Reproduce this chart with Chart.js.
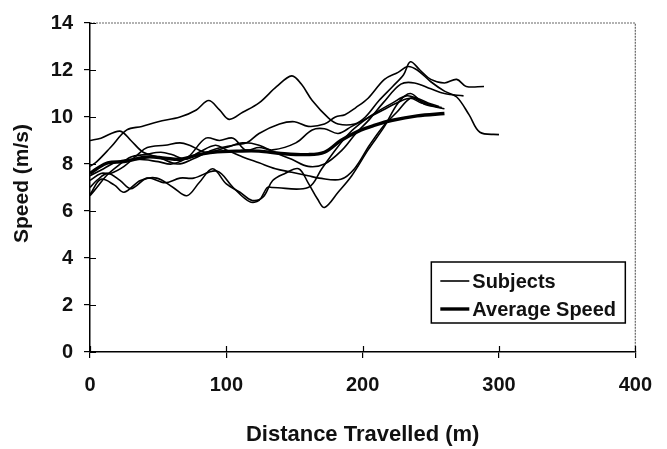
<!DOCTYPE html>
<html>
<head>
<meta charset="utf-8">
<script src="https://cdn.jsdelivr.net/npm/chart.js@4.4.0/dist/chart.umd.min.js"></script>
<style>
  body { margin: 0; background: #fff; }
  #wrap { width: 667px; height: 449px; }
</style>
</head>
<body>
<div id="wrap"><canvas id="speedChart" width="667" height="449"></canvas></div>
<script>
// distance (m), speed (m/s) pairs
var subject1 = [[0,7.9],[5,8.1],[15,8.7],[27,9.45],[38,9.6],[50,9.8],[66,10.0],[78,10.3],[87,10.7],[95,10.3],[102,9.9],[112,10.2],[124,10.6],[137,11.3],[148,11.75],[155,11.4],[163,10.7],[175,9.95],[182,9.7],[194,9.7],[202,10.0],[212,10.7],[222,11.3],[230,11.8],[235,12.35],[242,12.0],[250,11.6],[260,11.45],[269,11.6],[276,11.3],[289,11.3]];
var subject2 = [[0,9.0],[8,9.1],[22,9.4],[30,9.0],[39,8.5],[50,8.3],[64,8.0],[75,8.2],[90,8.6],[105,8.8],[115,8.9],[124,9.3],[139,9.7],[150,9.8],[160,9.6],[172,9.7],[180,10.0],[187,10.1],[195,10.4],[204,10.8],[216,11.6],[226,11.9],[233,12.15],[240,12.0],[250,11.5],[260,11.1],[269,10.85],[278,10.1],[286,9.35],[300,9.25]];
var subject3 = [[0,7.3],[8,7.6],[15,7.6],[25,7.9],[35,8.4],[42,8.7],[55,8.8],[66,8.9],[73,8.8],[85,8.5],[100,8.7],[112,8.9],[124,8.8],[135,8.5],[148,8.2],[160,7.9],[172,8.0],[185,8.6],[195,9.3],[205,9.9],[215,10.6],[228,11.4],[238,11.45],[250,11.2],[260,11.0],[274,10.9]];
var subject4 = [[0,6.7],[8,7.35],[18,7.1],[25,6.8],[37,7.3],[49,7.4],[61,7.0],[71,6.65],[80,7.2],[90,7.8],[100,7.15],[110,6.8],[119,6.45],[127,6.6],[134,7.3],[143,7.6],[153,7.8],[160,7.2],[167,6.5],[172,6.15],[182,6.8],[192,7.5],[204,8.6],[216,9.6],[226,10.6],[235,11.0],[245,10.55],[252,10.45],[260,10.35]];
var subject5 = [[0,7.0],[5,7.3],[13,7.6],[22,7.3],[30,6.95],[42,7.4],[55,7.2],[66,7.4],[76,7.4],[93,7.7],[105,7.0],[117,6.4],[124,6.45],[130,7.0],[134,7.0],[160,7.0],[170,7.8],[180,8.6],[190,9.3],[200,9.8],[210,10.2],[222,10.6],[232,10.9],[240,10.8],[248,10.6],[256,10.45]];
var subject6 = [[0,6.65],[5,7.0],[12,7.5],[20,7.9],[30,8.3],[40,8.4],[52,8.5],[60,8.4],[70,8.2],[80,8.5],[92,8.8],[100,8.6],[112,8.3],[124,8.05],[136,7.8],[148,7.65],[160,7.5],[168,7.4],[184,7.35],[194,7.8],[205,8.8],[215,9.6],[225,10.2],[235,10.8],[242,10.7],[250,10.5],[258,10.4]];
var subject7 = [[0,7.5],[10,7.8],[20,8.1],[35,8.2],[50,8.1],[60,8.0],[72,8.3],[85,9.1],[95,9.0],[105,9.1],[114,8.6],[124,8.7],[134,8.6],[151,8.9],[163,9.45],[172,9.5],[182,9.3],[192,9.6],[205,10.0],[215,10.3],[225,10.6],[235,10.8],[243,10.6],[252,10.5]];
var averageSpeed = [[0,7.6],[5,7.8],[13,8.05],[25,8.1],[42,8.3],[55,8.25],[66,8.2],[80,8.4],[90,8.5],[110,8.55],[124,8.55],[140,8.45],[160,8.4],[172,8.5],[184,9.0],[197,9.4],[209,9.65],[221,9.85],[240,10.05],[260,10.15]];

var subjects = [subject1, subject2, subject3, subject4, subject5, subject6, subject7];
var xTicks = [0, 100, 200, 300, 400];
var yTicks = [0, 2, 4, 6, 8, 10, 12, 14];
var xTitle = "Distance Travelled (m)";
var yTitle = "Speed (m/s)";
var legendLabels = ["Subjects", "Average Speed"];

var FONT = "'Liberation Sans', Arial, sans-serif";

function toPoints(arr) {
    return arr.map(p => ({x: p[0], y: p[1]}));
}

var datasets = subjects.map(s => ({
    data: toPoints(s),
    borderColor: "#000",
    borderWidth: 1.6,
    pointRadius: 0,
    fill: false,
    tension: 0.35
}));
datasets.push({
    data: toPoints(averageSpeed),
    borderColor: "#000",
    borderWidth: 3.4,
    pointRadius: 0,
    fill: false,
    tension: 0.35
});

var framePlugin = {
    id: 'frame',
    beforeDatasetsDraw(chart) {
        var a = chart.chartArea, c = chart.ctx;
        c.save();
        c.strokeStyle = "#666";
        c.lineWidth = 1.2;
        c.setLineDash([2, 1]);
        c.beginPath();
        c.moveTo(a.left, a.top);
        c.lineTo(a.right, a.top);
        c.lineTo(a.right, a.bottom);
        c.stroke();
        c.restore();
    },
    afterDraw(chart) {
        var a = chart.chartArea, c = chart.ctx;
        var xs = chart.scales.x, ys = chart.scales.y;
        c.save();
        // inner half of the crossing ticks
        c.strokeStyle = "#000";
        c.lineWidth = 1.2;
        c.beginPath();
        yTicks.forEach(v => {
            var py = Math.round(ys.getPixelForValue(v)) + 0.5;
            c.moveTo(a.left, py);
            c.lineTo(a.left + 6, py);
        });
        xTicks.forEach(v => {
            var px = Math.round(xs.getPixelForValue(v)) + 0.5;
            c.moveTo(px, a.bottom);
            c.lineTo(px, a.bottom - 6);
        });
        c.stroke();

        // axis titles
        c.fillStyle = "#111";
        c.font = "bold 22px " + FONT;
        c.textAlign = "center";
        c.textBaseline = "middle";
        c.fillText(xTitle, (a.left + a.right) / 2, 435);
        c.translate(22, (a.top + a.bottom) / 2 - 4);
        c.rotate(-Math.PI / 2);
        c.font = "bold 21px " + FONT;
        c.fillText(yTitle, 0, 0);
        c.restore();

        // legend box
        c.save();
        var bx = a.right - 204, by = a.bottom - 90, bw = 194, bh = 61;
        c.fillStyle = "#fff";
        c.fillRect(bx, by, bw, bh);
        c.strokeStyle = "#000";
        c.lineWidth = 1.5;
        c.strokeRect(bx, by, bw, bh);
        c.font = "bold 20px " + FONT;
        c.fillStyle = "#111";
        c.textAlign = "left";
        c.textBaseline = "middle";
        var rows = [by + 19, by + 47];
        var widths = [1.6, 3.4];
        rows.forEach((ry, i) => {
            c.beginPath();
            c.lineWidth = widths[i];
            c.moveTo(bx + 9, ry);
            c.lineTo(bx + 38, ry);
            c.stroke();
            c.fillText(legendLabels[i], bx + 41, ry + 1);
        });
        c.restore();
    }
};

var ctx = document.getElementById('speedChart').getContext('2d');
var speedChart = new Chart(ctx, {
    type: 'line',
    data: { datasets: datasets },
    options: {
        responsive: false,
        animation: false,
        events: [],
        layout: { padding: { left: 0, right: 29, top: 18, bottom: 0 } },
        plugins: { legend: { display: false }, tooltip: { enabled: false } },
        scales: {
            x: {
                type: 'linear',
                min: 0,
                max: 400,
                afterFit: s => { s.height = 97; },
                afterBuildTicks: s => { s.ticks = xTicks.map(v => ({value: v})); },
                grid: { drawOnChartArea: false, tickLength: 6, color: "#000", lineWidth: 1.2 },
                border: { color: "#000", width: 1.5 },
                ticks: { color: "#111", font: { family: FONT, size: 20, weight: 'bold' }, padding: 15, maxRotation: 0 }
            },
            y: {
                min: 0,
                max: 14,
                afterFit: s => { s.width = 90; },
                afterBuildTicks: s => { s.ticks = yTicks.map(v => ({value: v})); },
                grid: { drawOnChartArea: false, tickLength: 6, color: "#000", lineWidth: 1.2 },
                border: { color: "#000", width: 1.5 },
                ticks: { color: "#111", font: { family: FONT, size: 20, weight: 'bold' }, padding: 11 }
            }
        }
    },
    plugins: [framePlugin]
});
</script>
</body>
</html>
